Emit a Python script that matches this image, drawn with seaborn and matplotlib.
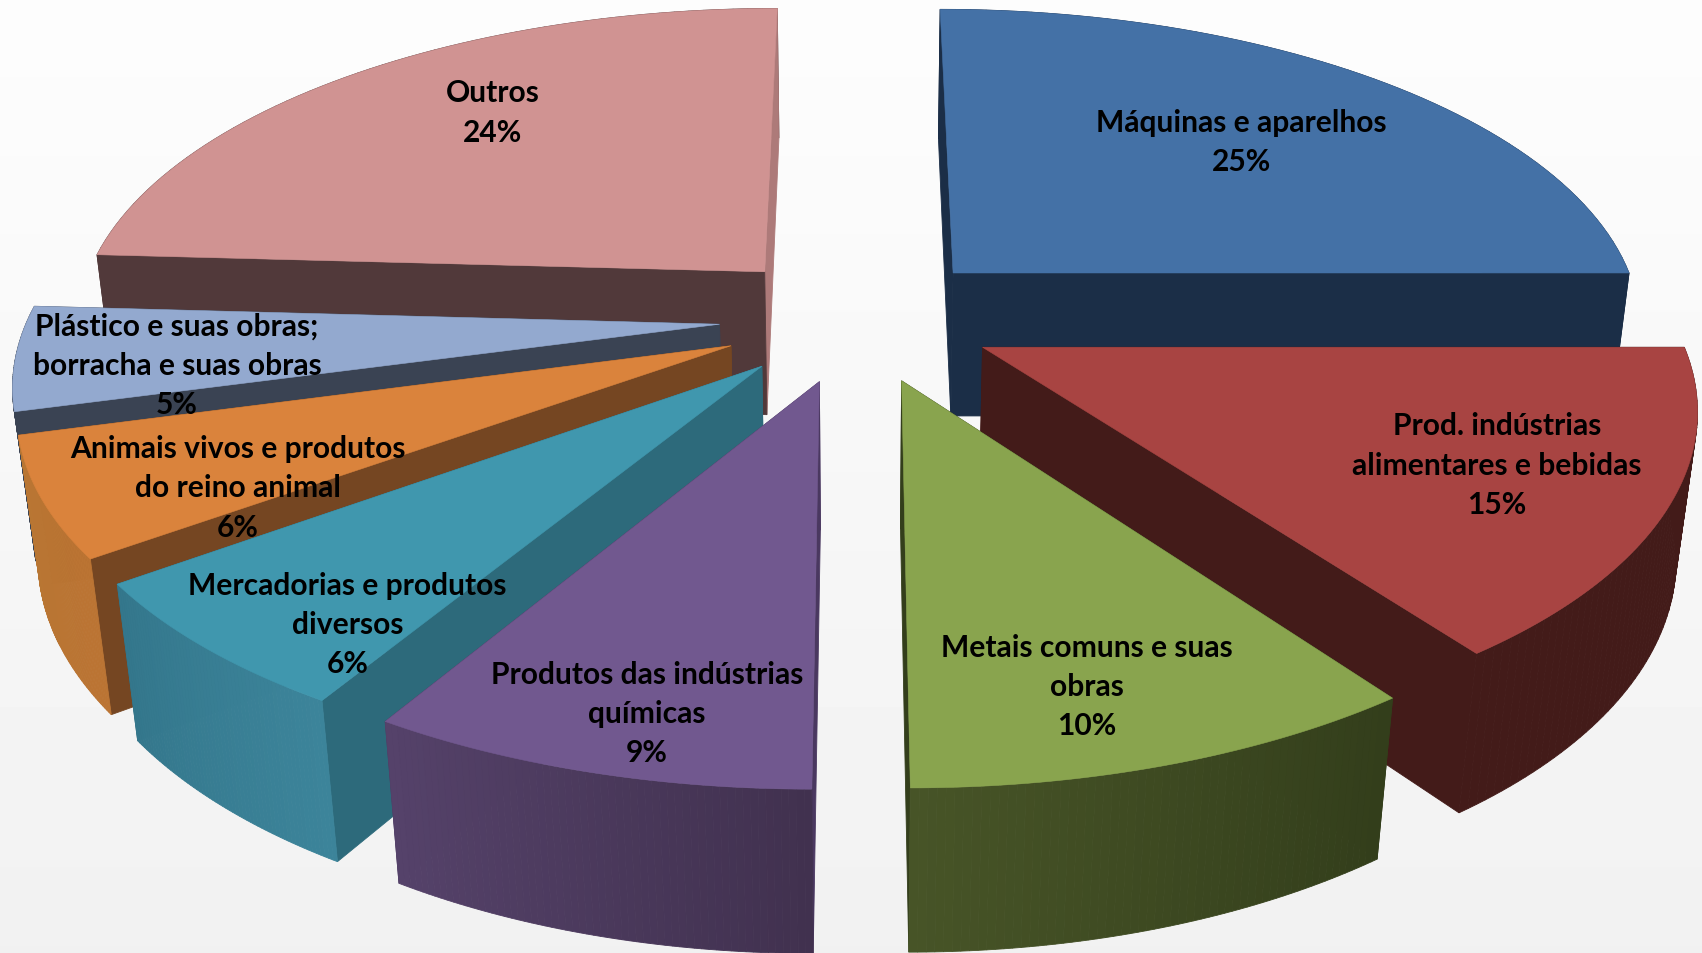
import numpy as np
import matplotlib
matplotlib.use("Agg")
import matplotlib.pyplot as plt
import seaborn as sns

# clockwise from the top of the pie
categories = [
    "Máquinas e aparelhos",
    "Prod. indústrias\nalimentares e bebidas",
    "Metais comuns e suas\nobras",
    "Produtos das indústrias\nquímicas",
    "Mercadorias e produtos\ndiversos",
    "Animais vivos e produtos\ndo reino animal",
    "Plástico e suas obras;\nborracha e suas obras",
    "Outros",
]
# the labels show these rounded
values = [25, 15, 10, 8.6, 6.4, 5.8, 5.1, 24.1]

top_colors = ["#4471a6", "#a84442", "#89a44e", "#71588f", "#4097ae", "#da833c", "#93a9cf", "#d09392"]
start_walls = ["#1b2e47", "#431b19", "#333e1b", "#4a3860", "#2d6a7b", "#754622", "#3a4353", "#51393a"]
end_walls = ["#1b2e47", "#431b19", "#333e1b", "#4a3860", "#2d6a7b", "#754622", "#3a4353", "#ad7a79"]
arc_start = ["#1b2e47", "#431b19", "#333e1b", "#41314f", "#3c849a", "#bb7433", "#3a4353", "#51393a"]
arc_end = ["#1b2e47", "#431b19", "#475427", "#55426a", "#34778c", "#b87633", "#3a4353", "#51393a"]

# far slices first
draw_order = [7, 0, 6, 5, 4, 3, 1, 2]

# label centres on the 1568x879 view
label_x = [1144, 1379, 1001, 596, 320, 219, 163, 454]
label_y = [131, 429, 633, 658, 576, 450, 337, 104]

# projection of the pie plane
CX, CY = 790, 293.5
RX, RY = 637, 297
PERSP = 0.162
DEPTH = 137
DEPTH_PERSP = 0.025
EXPLODE = 0.2
RADIUS_U = 1.0
RADIUS_V = 0.99


def project(u, v, z=0.0):
    w = 1 + PERSP * v + DEPTH_PERSP * z
    x = CX + RX * u / w
    y = CY - RY * v / w + DEPTH * z / w
    return x, y


def quad(ax, u0, v0, u1, v1, color, zorder):
    x0, y0 = project(u0, v0)
    x1, y1 = project(u1, v1)
    x2, y2 = project(u1, v1, 1)
    x3, y3 = project(u0, v0, 1)
    ax.fill([x0, x1, x2, x3], [y0, y1, y2, y3], color=color, lw=0.6, zorder=zorder)


def draw_slice(ax, a0, a1, i, zorder):
    mid = (a0 + a1) / 2
    du, dv = EXPLODE * np.sin(mid), EXPLODE * np.cos(mid)
    ang = np.linspace(a0, a1, 61)
    u = du + RADIUS_U * np.sin(ang)
    v = dv + RADIUS_V * np.cos(ang)

    # walls, back to front
    strips = sns.blend_palette([arc_start[i], arc_end[i]], n_colors=len(ang) - 1)
    faces = []
    for k in range(len(ang) - 1):
        faces.append(((v[k] + v[k + 1]) / 2, u[k], v[k], u[k + 1], v[k + 1], strips[k]))
    faces.append(((dv + v[0]) / 2, du, dv, u[0], v[0], start_walls[i]))
    faces.append(((dv + v[-1]) / 2, du, dv, u[-1], v[-1], end_walls[i]))
    for f in sorted(faces, key=lambda t: -t[0]):
        quad(ax, f[1], f[2], f[3], f[4], f[5], zorder)

    x, y = project(np.r_[du, u], np.r_[dv, v])
    ax.fill(x, y, color=top_colors[i], lw=0.4, zorder=zorder + 0.5)


def main():
    sns.set_theme(style="white")
    plt.rcParams["font.family"] = ["Lato", "DejaVu Sans"]

    fig = plt.figure(figsize=(17.02, 9.54), dpi=100)
    ax = fig.add_axes([0, 0, 1, 1])

    # soft background
    shade = np.linspace(0.992, 0.945, 256).reshape(-1, 1)
    ax.imshow(shade, cmap="gray", vmin=0, vmax=1, extent=(0, 1568, 879, 0), aspect="auto", zorder=0)

    edges = np.cumsum([0] + values) / sum(values) * 2 * np.pi
    for n, i in enumerate(draw_order):
        draw_slice(ax, edges[i], edges[i + 1], i, 2 + n)

    for i, name in enumerate(categories):
        ax.text(label_x[i], label_y[i], f"{name}\n{values[i]:.0f}%", ha="center", va="center",
                fontsize=21.6, fontweight="bold", color="black", linespacing=1.49, zorder=20)

    ax.set_xlim(0, 1568)
    ax.set_ylim(879, 0)
    ax.axis("off")
    fig.savefig("out.png", dpi=100)
    plt.close(fig)


if __name__ == "__main__":
    main()
